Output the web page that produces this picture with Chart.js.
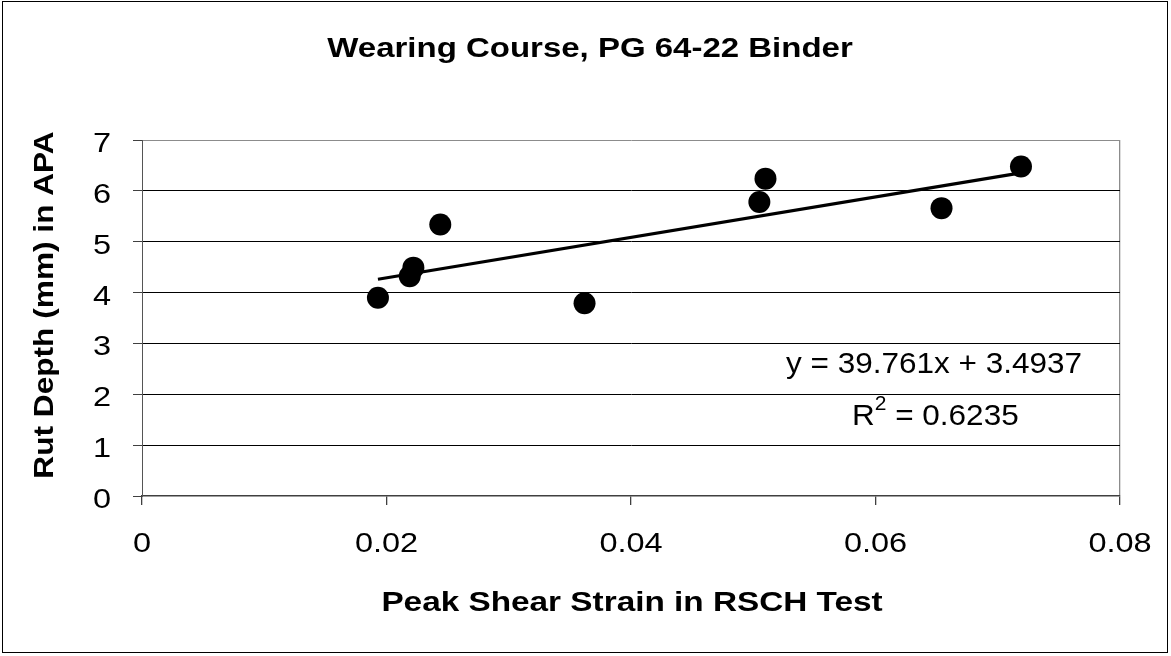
<!DOCTYPE html>
<html>
<head>
<meta charset="utf-8">
<script src="https://cdn.jsdelivr.net/npm/chart.js@4.4.0/dist/chart.umd.min.js"></script>
<style>
  html, body { margin: 0; padding: 0; background: #fff; }
  #wrap { width: 1171px; height: 656px; position: relative; }
</style>
</head>
<body>
<div id="wrap"><canvas id="chart"></canvas></div>
<script>
// values
const strain = [0.0193, 0.0219, 0.0222, 0.0244, 0.0362, 0.0505, 0.0510, 0.0654, 0.0719];
const rutDepth = [3.90, 4.32, 4.49, 5.34, 3.79, 5.78, 6.24, 5.66, 6.48];
const xTicks = [0, 0.02, 0.04, 0.06, 0.08];
const xTickLabels = ['0', '0.02', '0.04', '0.06', '0.08'];
const yTicks = [0, 1, 2, 3, 4, 5, 6, 7];
const yTickLabels = ['0', '1', '2', '3', '4', '5', '6', '7'];
const slope = 39.761;
const intercept = 3.4937;
const rSquared = '0.6235';

const titleText = 'Wearing Course, PG 64-22 Binder';
const xTitle = 'Peak Shear Strain in RSCH Test';
const yTitle = 'Rut Depth (mm) in APA';

const family = '"Liberation Sans", Arial, sans-serif';

const points = strain.map((x, i) => ({ x: x, y: rutDepth[i] }));
const xMin = Math.min(...strain);
const xMax = Math.max(...strain);
const trend = [
  { x: xMin, y: slope * xMin + intercept },
  { x: xMax, y: slope * xMax + intercept },
];

// the reference text is a bit wider than plain Arial, so stretch it a little
function drawText(ctx, text, x, y, font, sx, align, rot) {
  ctx.save();
  ctx.translate(x, y);
  if (rot) ctx.rotate(rot);
  ctx.scale(sx, 1);
  ctx.font = font;
  ctx.fillStyle = '#000';
  ctx.textAlign = align || 'center';
  ctx.textBaseline = 'alphabetic';
  ctx.fillText(text, 0, 0);
  ctx.restore();
}

const frame = {
  id: 'frame',
  beforeDraw(chart) {
    const ctx = chart.ctx;
    ctx.save();
    ctx.fillStyle = '#fff';
    ctx.fillRect(0, 0, chart.width, chart.height);
    ctx.strokeStyle = '#000';
    ctx.lineWidth = 1;
    ctx.strokeRect(2.5, 1.5, 1165, 651);
    ctx.restore();
  },
  afterDraw(chart) {
    const ctx = chart.ctx;
    const xs = chart.scales.x;
    const ys = chart.scales.y;

    // tick labels, placed with the chart's own scales
    xTicks.forEach((v, i) => {
      drawText(ctx, xTickLabels[i], xs.getPixelForValue(v), 552, '28px ' + family, 1.16);
    });
    yTicks.forEach((v, i) => {
      drawText(ctx, yTickLabels[i], 111, ys.getPixelForValue(v) + 12, '28px ' + family, 1.16, 'right');
    });

    drawText(ctx, titleText, 590, 57, 'bold 28px ' + family, 1.178);
    drawText(ctx, xTitle, 632, 611, 'bold 28px ' + family, 1.19);
    drawText(ctx, yTitle, 53, 305, 'bold 28px ' + family, 1.13, 'center', -Math.PI / 2);

    // trendline label
    const eq = 'y = ' + slope + 'x + ' + intercept;
    drawText(ctx, eq, 934, 373, '30px ' + family, 1.05);

    const sx = 1.05;
    let x = 852;
    ctx.save();
    ctx.font = '30px ' + family;
    const wR = ctx.measureText('R').width * sx;
    ctx.font = '20px ' + family;
    const w2 = ctx.measureText('2').width * sx;
    ctx.restore();
    drawText(ctx, 'R', x, 425, '30px ' + family, sx, 'left');
    x += wR;
    drawText(ctx, '2', x, 410, '20px ' + family, sx, 'left');
    x += w2;
    drawText(ctx, ' = ' + rSquared, x, 425, '30px ' + family, sx, 'left');
  },
};

const ctx = document.getElementById('chart').getContext('2d');
new Chart(ctx, {
  type: 'scatter',
  data: {
    datasets: [
      {
        type: 'line',
        data: trend,
        borderColor: '#000',
        borderWidth: 3.2,
        pointRadius: 0,
        fill: false,
        order: 2,
      },
      {
        data: points,
        backgroundColor: '#000',
        borderWidth: 0,
        pointRadius: 11,
        pointHoverRadius: 11,
        order: 1,
      },
    ],
  },
  options: {
    responsive: true,
    maintainAspectRatio: false,
    animation: false,
    layout: { padding: { top: 140, right: 51, left: 0, bottom: 0 } },
    plugins: {
      legend: { display: false },
      tooltip: { enabled: false },
    },
    scales: {
      x: {
        type: 'linear',
        min: 0,
        max: 0.08,
        afterBuildTicks: (s) => { s.ticks = xTicks.map((v) => ({ value: v })); },
        afterFit: (s) => { s.height = 160; },
        grid: {
          drawOnChartArea: true,
          color: (c) => (c.tick && c.tick.value === 0.08 ? '#8c8c8c' : 'rgba(0,0,0,0)'),
          tickColor: '#404040',
          tickLength: 9,
          lineWidth: 1.3,
        },
        border: { display: true, color: '#404040', width: 1.5 },
        ticks: { display: false },
      },
      y: {
        min: 0,
        max: 7,
        afterBuildTicks: (s) => { s.ticks = yTicks.map((v) => ({ value: v })); },
        afterFit: (s) => { s.width = 142; },
        grid: {
          color: (c) => {
            if (!c.tick) return '#000';
            if (c.tick.value === 7) return '#8c8c8c';
            if (c.tick.value === 0) return 'rgba(0,0,0,0)';
            return '#000';
          },
          tickColor: '#404040',
          tickLength: 9,
          lineWidth: 1,
        },
        border: { display: true, color: '#555', width: 1 },
        ticks: { display: false },
      },
    },
  },
  plugins: [frame],
});
</script>
</body>
</html>
